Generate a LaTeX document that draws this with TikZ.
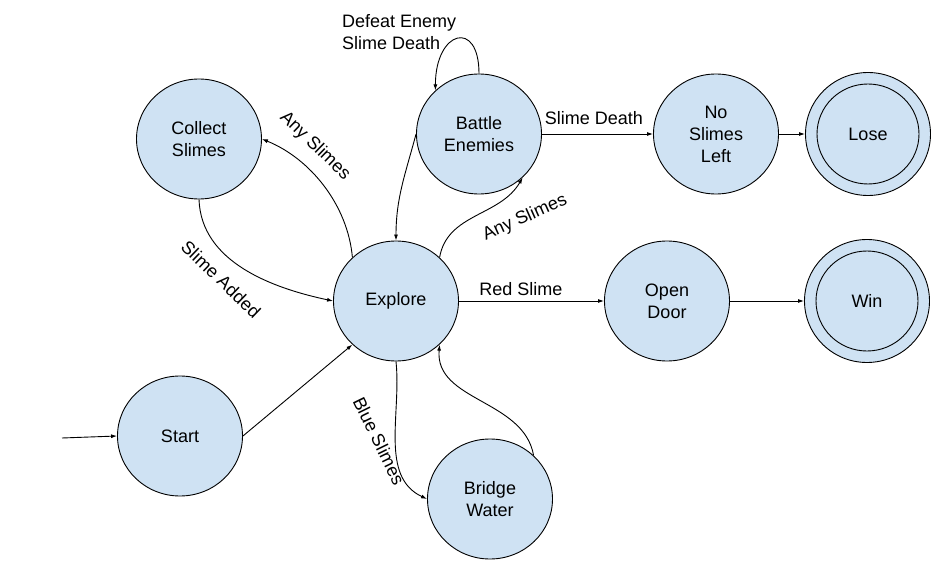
\documentclass[tikz,border=0pt]{standalone}
\usepackage{fontspec}
\setmainfont{Liberation Sans}
\usetikzlibrary{shapes.geometric,arrows.meta}
\definecolor{statefill}{RGB}{207,226,243}
\tikzset{
  state/.style={ellipse, draw=black, line width=0.9pt, fill=statefill, inner sep=0pt,
    minimum width=125pt, minimum height=120pt, align=center},
  innerring/.style={ellipse, draw=black, line width=0.9pt, inner sep=0pt,
    minimum width=102pt, minimum height=100pt, align=center},
  conn/.style={line width=0.9pt, -{Latex[length=6pt,width=4pt]}},
  lbl/.style={inner sep=0pt, align=left},
}
\begin{document}
\begin{tikzpicture}[x=1pt,y=-1pt,font=\fontsize{18}{22}\selectfont]
\useasboundingbox[fill=white] (0,0) rectangle (946,567);
% states
\node[state] (collect) at (199,139) {Collect\\Slimes};
\node[state] (battle)  at (479,134) {Battle\\Enemies};
\node[state] (explore) at (396,301) {Explore};
\node[state] (start)   at (180,436) {Start};
\node[state] (bridge)  at (490,499) {Bridge\\Water};
\node[state] (noslime) at (716,134) {No\\Slimes\\Left};
\node[state] (opendoor) at (667,301) {Open\\Door};
\node[state, minimum height=123pt] (lose) at (868,134) {};
\node[innerring] (losein) at (lose) {Lose};
\node[state, minimum height=123pt] (win) at (867,301) {};
\node[innerring] (winin) at (win) {Win};
% initial arrow
\coordinate (init) at (62,438);
\draw[conn] (init) -- (start.west);
% connectors
\draw[conn] (start.east) -- (explore.-135);
\draw[conn] (collect.south) to[out=-88,in=168,looseness=0.95] (explore.west);
\draw[conn] (explore.135) to[out=95,in=-22,looseness=0.9] (collect.east);
\draw[conn] (battle.180) to[out=-105,in=90] (explore.north);
\draw[conn] (explore.45) to[out=80,in=-120] (battle.-45);
\draw[conn] (battle.north) .. controls +(0,-55) and +(0,-60) .. (battle.135);
\draw[conn] (battle.east) -- (noslime.west);
\draw[conn] (noslime.east) -- (lose.west);
\draw[conn] (explore.east) -- (opendoor.west);
\draw[conn] (opendoor.east) -- (win.west);
\draw[conn] (explore.south) to[out=-84,in=155,looseness=0.95] (bridge.west);
\draw[conn] (bridge.45) to[out=100,in=-95] (explore.-45);
% labels
\node[lbl, rotate=-44] (l1) at (315,146) {Any Slimes};
\node[lbl, rotate=-44] (l2) at (221,279) {Slime Added};
\node[lbl, rotate=24]  (l3) at (525,218) {Any Slimes};
\node[lbl, anchor=west] (l4) at (342,32) {Defeat Enemy\\Slime Death};
\node[lbl] (l5) at (594,118) {Slime Death};
\node[lbl] (l6) at (521,289) {Red Slime};
\node[lbl, rotate=-64] (l7) at (379,441) {Blue Slimes};
\end{tikzpicture}
\end{document}
